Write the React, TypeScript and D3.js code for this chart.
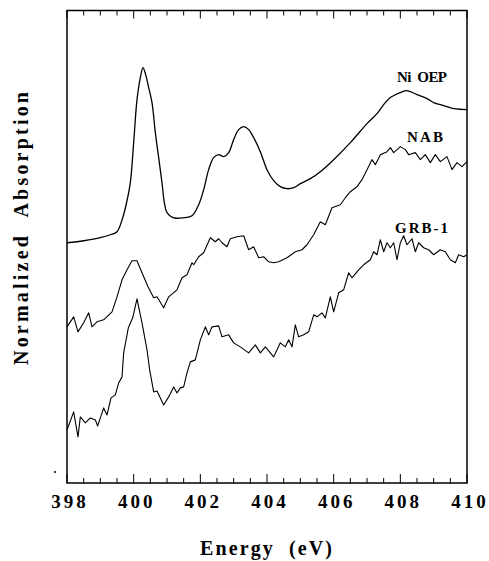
import React from "react";
import * as d3 from "d3";

const xTicksMajor = [398, 400, 402, 404, 406, 408, 410];
const xDomain: [number, number] = [398, 410];
const yDomain: [number, number] = [0, 4.72];

const niOep: [number, number][] = [
  [398.0, 2.40], [398.5, 2.42], [399.0, 2.45], [399.3, 2.48], [399.5, 2.51], [399.68, 2.66],
  [399.8, 2.82], [399.9, 3.00], [400.0, 3.40], [400.1, 3.83], [400.2, 4.05], [400.28, 4.15],
  [400.36, 4.08], [400.45, 3.95], [400.55, 3.80], [400.65, 3.50], [400.75, 3.25], [400.85, 3.00],
  [400.92, 2.80], [401.0, 2.70], [401.18, 2.65], [401.5, 2.65], [401.75, 2.67], [401.95, 2.78],
  [402.1, 2.93], [402.25, 3.13], [402.4, 3.25], [402.55, 3.28], [402.7, 3.26], [402.85, 3.30],
  [403.0, 3.43], [403.15, 3.53], [403.3, 3.56], [403.45, 3.53], [403.6, 3.45], [403.8, 3.31],
  [404.0, 3.13], [404.2, 3.02], [404.4, 2.96], [404.6, 2.94], [404.8, 2.95], [405.0, 2.99],
  [405.3, 3.04], [405.6, 3.11], [406.0, 3.23], [406.5, 3.40], [407.0, 3.59], [407.3, 3.69],
  [407.5, 3.78], [407.7, 3.85], [408.0, 3.90], [408.2, 3.92], [408.5, 3.88], [408.8, 3.84],
  [409.0, 3.80], [409.3, 3.77], [409.6, 3.74], [410.0, 3.73],
];

const nab: [number, number][] = [
  [398.0, 1.56], [398.2, 1.66], [398.33, 1.51], [398.5, 1.60], [398.65, 1.70], [398.75, 1.56],
  [398.9, 1.61], [399.1, 1.63], [399.35, 1.71], [399.5, 1.86], [399.65, 2.03], [399.8, 2.13],
  [399.95, 2.22], [400.1, 2.22], [400.25, 2.10], [400.43, 1.96], [400.6, 1.85], [400.7, 1.86],
  [400.9, 1.75], [401.05, 1.86], [401.3, 1.93], [401.45, 2.05], [401.6, 2.08], [401.75, 2.20],
  [401.8, 2.18], [401.95, 2.26], [402.1, 2.30], [402.3, 2.45], [402.45, 2.41], [402.55, 2.44],
  [402.65, 2.40], [402.8, 2.36], [402.9, 2.44], [403.1, 2.46], [403.3, 2.47], [403.45, 2.33],
  [403.6, 2.36], [403.75, 2.25], [403.9, 2.26], [404.05, 2.21], [404.2, 2.20], [404.35, 2.21],
  [404.6, 2.25], [404.85, 2.31], [405.05, 2.33], [405.2, 2.38], [405.4, 2.48], [405.6, 2.61],
  [405.75, 2.58], [405.95, 2.75], [406.2, 2.78], [406.35, 2.85], [406.5, 2.91], [406.7, 2.96],
  [406.85, 3.03], [407.0, 3.13], [407.15, 3.23], [407.25, 3.18], [407.4, 3.28], [407.6, 3.31],
  [407.7, 3.35], [407.8, 3.30], [408.0, 3.36], [408.15, 3.33], [408.25, 3.28], [408.45, 3.30],
  [408.6, 3.23], [408.75, 3.28], [408.9, 3.20], [409.05, 3.28], [409.2, 3.21], [409.4, 3.26],
  [409.55, 3.13], [409.7, 3.20], [409.85, 3.16], [410.0, 3.21],
];

const grb1: [number, number][] = [
  [398.0, 0.53], [398.2, 0.71], [398.33, 0.46], [398.4, 0.66], [398.55, 0.60], [398.7, 0.65],
  [398.85, 0.63], [398.92, 0.57], [399.1, 0.75], [399.2, 0.68], [399.32, 0.85], [399.45, 0.88],
  [399.55, 1.00], [399.65, 1.06], [399.7, 1.30], [399.84, 1.55], [399.97, 1.65], [400.1, 1.84],
  [400.25, 1.60], [400.4, 1.33], [400.48, 1.13], [400.6, 0.91], [400.7, 0.92], [400.9, 0.78],
  [401.05, 0.86], [401.2, 0.96], [401.3, 0.90], [401.4, 0.95], [401.5, 0.96], [401.6, 1.10],
  [401.7, 1.21], [401.85, 1.23], [402.0, 1.43], [402.15, 1.56], [402.25, 1.48], [402.35, 1.56],
  [402.55, 1.57], [402.65, 1.46], [402.85, 1.48], [403.0, 1.40], [403.2, 1.36], [403.45, 1.30],
  [403.65, 1.38], [403.8, 1.30], [403.95, 1.36], [404.2, 1.26], [404.4, 1.40], [404.55, 1.36],
  [404.65, 1.43], [404.75, 1.36], [404.85, 1.58], [404.95, 1.46], [405.1, 1.48], [405.25, 1.51],
  [405.4, 1.68], [405.5, 1.66], [405.65, 1.70], [405.75, 1.65], [405.9, 1.86], [406.0, 1.71],
  [406.15, 1.90], [406.3, 1.93], [406.45, 2.10], [406.55, 2.05], [406.75, 2.13], [406.9, 2.18],
  [407.1, 2.23], [407.2, 2.31], [407.3, 2.28], [407.4, 2.43], [407.5, 2.31], [407.6, 2.40],
  [407.7, 2.35], [407.8, 2.40], [407.9, 2.23], [408.0, 2.40], [408.1, 2.47], [408.2, 2.38],
  [408.35, 2.44], [408.45, 2.31], [408.55, 2.40], [408.7, 2.35], [408.85, 2.33], [409.0, 2.28],
  [409.2, 2.33], [409.35, 2.31], [409.5, 2.23], [409.65, 2.20], [409.75, 2.28], [409.9, 2.26],
  [410.0, 2.28],
];

const seriesLabels = ["Ni  OEP", "NAB", "GRB-1"];
const xLabel = "Energy  (eV)";
const yLabel = "Normalized  Absorption";

export default function App() {
  const W = 489, H = 561;
  const left = 67, right = 467, top = 10.5, bottom = 483;
  const x = d3.scaleLinear().domain(xDomain).range([left, right]);
  const y = d3.scaleLinear().domain(yDomain).range([bottom, top]);
  const lineSmooth = d3.line<[number, number]>().x(d => x(d[0])).y(d => y(d[1])).curve(d3.curveCatmullRom.alpha(0.5));
  const lineRaw = d3.line<[number, number]>().x(d => x(d[0])).y(d => y(d[1]));
  const minor = d3.range(xDomain[0], xDomain[1] + 0.001, 0.5).filter(v => !xTicksMajor.includes(v));
  const font = "'Liberation Serif', 'Times New Roman', serif";

  // label anchor values (energy, absorption)
  const labelPos: [number, number, number][] = [
    [397, 4.01, 50],
    [407, 3.41, 36],
    [395, 2.50, 53],
  ];

  return (
    <svg width={W} height={H} style={{ position: "absolute", left: 0, top: 0, background: "#fff" }}>
      <rect x={0} y={0} width={W} height={H} fill="#fff" />
      {/* frame */}
      <rect x={left} y={top} width={right - left} height={bottom - top} fill="none" stroke="#000" strokeWidth={1.5} />
      {/* ticks */}
      {xTicksMajor.map(v => (
        <g key={"M" + v}>
          <line x1={x(v)} x2={x(v)} y1={bottom} y2={bottom - 9} stroke="#000" strokeWidth={1} />
          <line x1={x(v)} x2={x(v)} y1={top} y2={top + 8} stroke="#000" strokeWidth={1} />
        </g>
      ))}
      {minor.map(v => (
        <g key={"m" + v}>
          <line x1={x(v)} x2={x(v)} y1={bottom} y2={bottom - 5} stroke="#000" strokeWidth={1} />
          <line x1={x(v)} x2={x(v)} y1={top} y2={top + 5} stroke="#000" strokeWidth={1} />
        </g>
      ))}
      {/* tick labels */}
      {xTicksMajor.map(v => (
        <text key={"t" + v} x={x(v) + 3} y={508} textAnchor="middle" fontFamily={font} fontWeight="bold"
          fontSize={19} letterSpacing={3}>{v}</text>
      ))}
      {/* curves */}
      <path d={lineSmooth(niOep) || ""} fill="none" stroke="#000" strokeWidth={1.3} />
      <path d={lineRaw(nab) || ""} fill="none" stroke="#000" strokeWidth={1.1} strokeLinejoin="round" />
      <path d={lineRaw(grb1) || ""} fill="none" stroke="#000" strokeWidth={1.1} strokeLinejoin="round" />
      {/* series labels */}
      {seriesLabels.map((s, i) => (
        <text key={s} x={labelPos[i][0]} y={y(labelPos[i][1])} fontFamily={font} fontWeight="bold" fontSize={15}
          textLength={labelPos[i][2]} lengthAdjust="spacing" style={{ whiteSpace: "pre" }}>{s}</text>
      ))}
      {/* axis titles */}
      <text x={200} y={555} fontFamily={font} fontWeight="bold" fontSize={20} textLength={132}
        lengthAdjust="spacing" style={{ whiteSpace: "pre" }}>{xLabel}</text>
      <text transform="translate(28,365) rotate(-90)" x={0} y={0} fontFamily={font} fontWeight="bold" fontSize={20}
        textLength={273} lengthAdjust="spacing" style={{ whiteSpace: "pre" }}>{yLabel}</text>
      <circle cx={55} cy={472} r={1} fill="#000" />
    </svg>
  );
}
